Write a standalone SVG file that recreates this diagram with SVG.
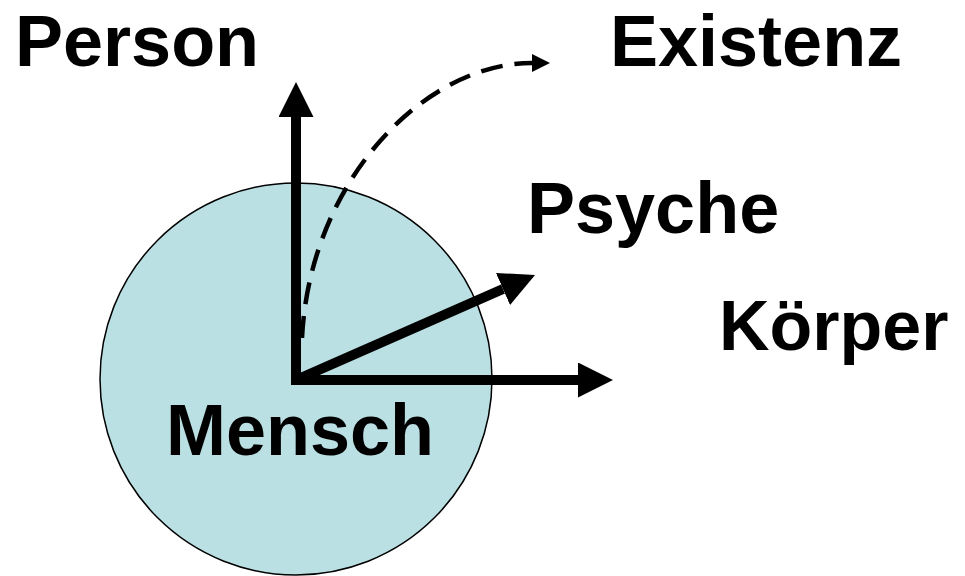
<svg xmlns="http://www.w3.org/2000/svg" width="965" height="576" viewBox="0 0 965 576">
<style>
.lbl{font-family:"Liberation Sans",Arial,sans-serif;font-weight:bold;font-size:72px;fill:#000}
.ax{stroke:#000;stroke-width:10;fill:none}
</style>
<defs>
<marker id="ah" viewBox="0 0 10 10" refX="0" refY="5" markerWidth="3.5" markerHeight="3.5" orient="auto" markerUnits="strokeWidth">
<path d="M0,0 L10,5 L0,10 Z" fill="#000"/>
</marker>
<marker id="ahd" viewBox="0 0 10 10" refX="0" refY="5" markerWidth="4" markerHeight="4" orient="auto" markerUnits="strokeWidth">
<path d="M0,0 L10,5 L0,10 Z" fill="#000"/>
</marker>
</defs>
<rect width="965" height="576" fill="#fff"/>
<g id="mensch">
<circle cx="296" cy="379" r="196" fill="#BBE0E3" stroke="#000" stroke-width="1.5"/>
<text class="lbl" x="300" y="455" text-anchor="middle">Mensch</text>
</g>
<g id="connectors">
<path d="M302,338 C310,180 425,63 532,63" fill="none" stroke="#000" stroke-width="4.5" stroke-dasharray="22,12" marker-end="url(#ahd)"/>
<line class="ax" x1="296" y1="384" x2="296" y2="117" marker-end="url(#ah)"/>
<line class="ax" x1="291" y1="380" x2="578" y2="380" marker-end="url(#ah)"/>
<line class="ax" x1="296" y1="380" x2="503" y2="289" marker-end="url(#ah)"/>
</g>
<g id="person"><text class="lbl" x="15" y="66">Person</text></g>
<g id="existenz"><text class="lbl" x="610" y="66">Existenz</text></g>
<g id="psyche"><text class="lbl" x="527" y="233">Psyche</text></g>
<g id="koerper"><text class="lbl" x="719" y="350" style="font-size:70px">Körper</text></g>
</svg>
